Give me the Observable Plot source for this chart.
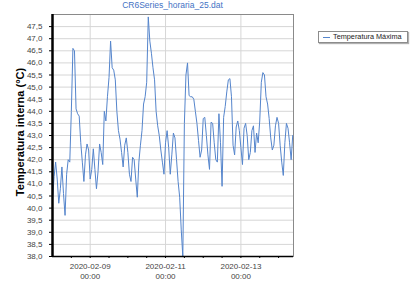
<!DOCTYPE html>
<html><head><meta charset="utf-8">
<script src="https://cdn.jsdelivr.net/npm/d3@7"></script>
<script src="https://cdn.jsdelivr.net/npm/@observablehq/plot@0.6"></script>
<style>
body{margin:0;background:#fff;font-family:"Liberation Sans",Arial,sans-serif;}
#wrap{position:relative;width:413px;height:281px;overflow:hidden;background:#fff}
#chart{position:absolute;left:0;top:0}
#title{position:absolute;left:52px;width:241px;top:0px;text-align:center;font-size:8.5px;color:#4472c4;line-height:10px}
#legend{position:absolute;left:318px;top:31px;width:88px;height:10px;border:1px solid #8c8c8c;box-shadow:1px 1px 1px #b0b0b0;font-size:7.3px;line-height:10px;color:#222;white-space:nowrap;background:#fff}
#legend .sw{display:inline-block;width:7px;height:1px;background:#5585cc;vertical-align:middle;margin:0 3px 0 4px}
#ylabel{position:absolute;left:20px;top:132px;transform:translate(-50%,-50%) rotate(-90deg);font-size:11px;font-weight:bold;color:#000;white-space:nowrap}
</style></head><body>
<div id="wrap">
<div id="chart"></div>
<div id="title">CR6Series_horaria_25.dat</div>
<div id="legend"><span class="sw"></span>Temperatura Máxima</div>
<div id="ylabel">Temperatura interna (°C)</div>
</div>
<script>
// hourly series start and x-domain
const startTime = "2020-02-08T00:00Z";
const xDomain = ["2020-02-08T00:00Z", "2020-02-14T09:30Z"];
const yDomain = [38, 48];
// Temperatura Máxima, one value per hour from startTime
const tempMax = [
  40.3, 41.3, 41.9, 41.2, 40.2, 40.8, 41.7, 40.6, 39.7, 41.4,
  42.0, 41.9, 44.0, 46.6, 46.5, 44.1, 43.9, 43.8, 42.7, 41.9,
  41.1, 42.2, 42.65, 42.4, 41.2, 41.6, 42.45, 41.6, 40.8, 41.5,
  42.65, 42.3, 41.8, 44.0, 43.6, 44.6, 45.4, 46.9, 45.8, 45.7,
  45.3, 44.0, 43.2, 42.85, 42.3, 41.7, 42.6, 42.9, 42.3, 41.4,
  41.1, 42.1, 42.0, 41.2, 40.45, 41.9, 42.6, 43.2, 44.3, 44.6,
  45.2, 47.9, 46.9, 46.4, 45.8, 45.3, 44.0, 43.4, 43.0, 42.4,
  41.9, 41.4, 42.7, 43.2, 42.5, 41.4, 42.2, 43.1, 42.9, 42.0,
  41.1, 40.45, 39.1, 38.0, 43.5, 45.5, 46.0, 44.65, 44.6, 44.6,
  44.5, 44.0, 43.5, 42.8, 42.1, 42.4, 43.7, 43.75, 43.0, 42.2,
  41.6, 43.55, 43.5, 42.7, 42.0, 41.9, 43.9, 42.7, 40.9, 43.75,
  44.2, 44.8, 45.3, 45.35, 44.6, 42.6, 42.2, 43.35, 43.6, 43.2,
  42.5, 41.8, 43.3, 43.5, 43.0, 42.0, 42.3, 43.2, 43.4, 42.3,
  43.1, 42.7, 43.6, 45.2, 45.6, 45.5, 44.6, 44.3, 43.7, 42.9,
  42.4, 42.6, 43.4, 43.75, 43.5, 42.6, 41.9, 41.35, 42.7, 43.5,
  43.3, 42.7, 42.0, 43.0
];
const yTicks = [38, 38.5, 39, 39.5, 40, 40.5, 41, 41.5, 42, 42.5, 43, 43.5, 44, 44.5, 45, 45.5, 46, 46.5, 47, 47.5];
const yGrid = [38.5, 39, 39.5, 40, 40.5, 41, 41.5, 42, 42.5, 43, 43.5, 44, 44.5, 45, 45.5, 46, 46.5, 47, 47.5];
const xTicks = [
  "2020-02-08T12:00Z", "2020-02-09T00:00Z", "2020-02-09T12:00Z", "2020-02-10T00:00Z",
  "2020-02-10T12:00Z", "2020-02-11T00:00Z", "2020-02-11T12:00Z", "2020-02-12T00:00Z",
  "2020-02-12T12:00Z", "2020-02-13T00:00Z", "2020-02-13T12:00Z", "2020-02-14T00:00Z"
];
const xLabels = ["2020-02-09T00:00Z", "2020-02-11T00:00Z", "2020-02-13T00:00Z"];

const t0 = new Date(startTime).getTime();
const data = tempMax.map((v, i) => ({time: new Date(t0 + i * 3600e3), temp: v}));
const toDate = s => new Date(s);
const fmt = d3.utcFormat("%Y-%m-%d\n%H:%M");
const dec = d => d.toFixed(1).replace(".", ",");

const chart = Plot.plot({
  width: 413,
  height: 281,
  marginLeft: 52,
  marginRight: 120,
  marginTop: 14,
  marginBottom: 25,
  style: {fontFamily: "Liberation Sans, Arial, sans-serif", fontSize: "8px", background: "transparent", color: "#000"},
  x: {type: "utc", domain: xDomain.map(toDate)},
  y: {domain: yDomain},
  marks: [
    Plot.gridY(yGrid, {stroke: "#d6d6d6", strokeOpacity: 1, strokeWidth: 1}),
    Plot.gridX(xLabels.map(toDate), {stroke: "#d6d6d6", strokeOpacity: 1, strokeWidth: 1}),
    Plot.frame({stroke: "#8a8a8a", strokeWidth: 1}),
    Plot.line(data, {x: "time", y: "temp", stroke: "#5585cc", strokeWidth: 1}),
    Plot.axisY(yTicks, {tickSize: 3, tickPadding: 7, tickFormat: dec, fill: "#444", stroke: "#000", label: null}),
    Plot.axisX(xTicks.map(toDate), {tickSize: 2, tickFormat: () => "", stroke: "#000", label: null}),
    Plot.axisX(xLabels.map(toDate), {tickSize: 0, tickPadding: 6, tickFormat: fmt, fill: "#444", lineHeight: 1.2, label: null}),
    Plot.ruleX([toDate(xDomain[0])], {stroke: "#000", strokeWidth: 2.5}),
    Plot.ruleY([yDomain[0]], {stroke: "#000", strokeWidth: 1.5})
  ]
});
document.getElementById("chart").appendChild(chart);
</script>
</body></html>
